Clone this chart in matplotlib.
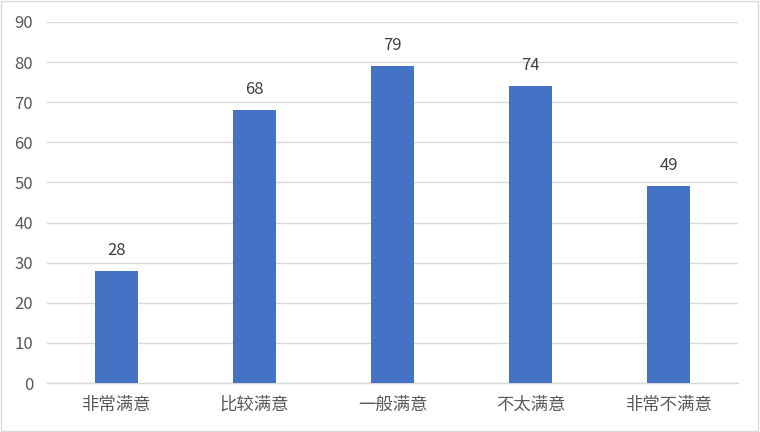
import matplotlib
matplotlib.use('Agg')
import matplotlib.pyplot as plt
from matplotlib.patches import Rectangle

plt.rcParams['font.family'] = ['Noto Sans CJK SC', 'DejaVu Sans']

# data
categories = ['非常满意', '比较满意', '一般满意', '不太满意', '非常不满意']
values = [28, 68, 79, 74, 49]

fig = plt.figure(figsize=(7.6, 4.32), dpi=100)
ax = fig.add_axes([47 / 760, 49 / 432, 691 / 760, 361 / 432])

x = range(len(categories))
ax.bar(x, values, width=0.31, color='#4472C4', zorder=3)

for i, v in enumerate(values):
    ax.text(i, v + 3, str(v), ha='center', va='bottom', fontsize=12, color='#404040')

ax.set_xlim(-0.5, len(categories) - 0.5)
ax.set_ylim(0, 90)
ax.set_yticks(range(0, 91, 10))
ax.set_xticks(list(x))
ax.set_xticklabels(categories)
ax.grid(axis='y', color='#D9D9D9', linewidth=1, zorder=0)
ax.tick_params(axis='both', length=0, colors='#595959')
ax.tick_params(axis='x', pad=9, labelsize=12.5)
ax.tick_params(axis='y', pad=10, labelsize=12)
for s in ['top', 'right', 'left']:
    ax.spines[s].set_visible(False)
ax.spines['bottom'].set_color('#D9D9D9')
ax.spines['bottom'].set_linewidth(1)

# outer border
fig.patches.append(Rectangle((0.001, 0.002), 0.997, 0.995, transform=fig.transFigure,
                             fill=False, edgecolor='#D9D9D9', linewidth=1))

fig.savefig('out.png', dpi=100)
